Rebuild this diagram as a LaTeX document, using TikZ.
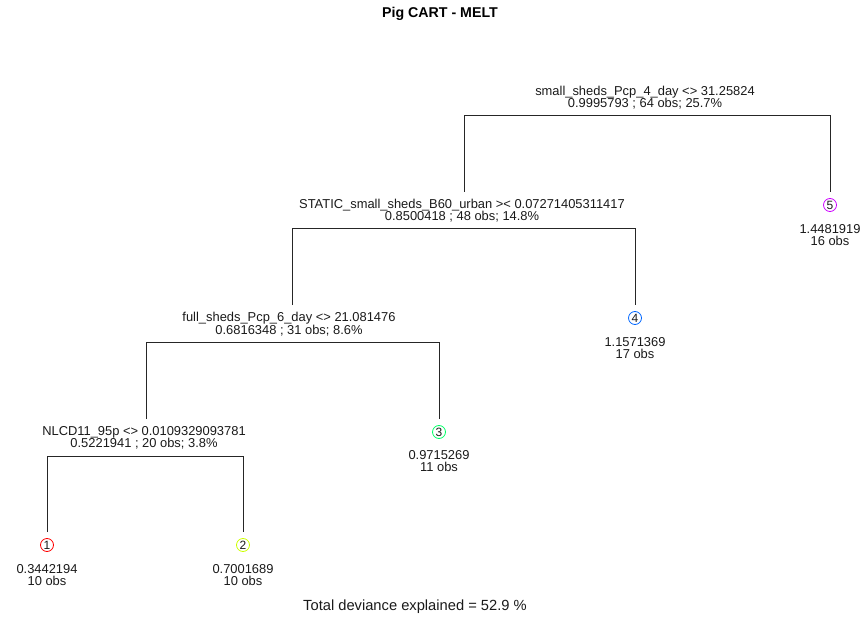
\documentclass[tikz,border=0pt]{standalone}
\usepackage{fontspec}
\setmainfont{Liberation Sans}
\definecolor{c1}{HTML}{FF0000}
\definecolor{c2}{HTML}{CCFF00}
\definecolor{c3}{HTML}{00FF66}
\definecolor{c4}{HTML}{0066FF}
\definecolor{c5}{HTML}{CC00FF}
\definecolor{txt}{HTML}{1A1A1A}
\begin{document}
\begin{tikzpicture}[x=1pt,y=-1pt,
  lbl/.style={font=\fontsize{12.9}{12.6}\selectfont, align=center, inner sep=0pt, text=txt},
  edge/.style={draw=black!85, line width=1pt},
  leafc/.style={circle, draw=#1, line width=0.8pt, inner sep=0pt, minimum size=13pt, text=txt, font=\fontsize{12}{12}\selectfont},
  ttl/.style={font=\fontsize{14.2}{14}\selectfont\bfseries, inner sep=0pt},
  foot/.style={font=\fontsize{14.7}{14}\selectfont, inner sep=0pt, text=txt}]
\useasboundingbox (0,0) rectangle (864,620);

\node[ttl] (title) at (440,14) {Pig CART - MELT};
\node[foot] (footer) at (415,607) {Total deviance explained = 52.9 \%};

% labels of splits
\node[lbl] (root) at (645,97.5) {small\_sheds\_Pcp\_4\_day <> 31.25824\\0.9995793 ; 64 obs; 25.7\%};
\node[lbl] (static) at (462,210.5) {STATIC\_small\_sheds\_B60\_urban >< 0.07271405311417\\0.8500418 ; 48 obs; 14.8\%};
\node[lbl] (full) at (289,324) {full\_sheds\_Pcp\_6\_day <> 21.081476\\0.6816348 ; 31 obs; 8.6\%};
\node[lbl] (nlcd) at (144,438) {NLCD11\_95p <> 0.0109329093781\\0.5221941 ; 20 obs; 3.8\%};

% leaves
\node[leafc=c5] (l5) at (830,205) {5};
\node[lbl] (t5) at (830,235) {1.4481919\\16 obs};
\node[leafc=c4] (l4) at (635,318) {4};
\node[lbl] (t4) at (635,348) {1.1571369\\17 obs};
\node[leafc=c3] (l3) at (439,432) {3};
\node[lbl] (t3) at (439,461) {0.9715269\\11 obs};
\node[leafc=c1] (l1) at (47,545) {1};
\node[lbl] (t1) at (47,575) {0.3442194\\10 obs};
\node[leafc=c2] (l2) at (243,545) {2};
\node[lbl] (t2) at (243,575) {0.7001689\\10 obs};

% split corners and branch ends
\coordinate (rL) at (464,116); \coordinate (rR) at (830,116);
\coordinate (sL) at (292,229); \coordinate (sR) at (635,229);
\coordinate (fL) at (146,342); \coordinate (fR) at (439,342);
\coordinate (nL) at (47,456);  \coordinate (nR) at (243,456);
\coordinate (eStatic) at (464,192); \coordinate (e5) at (830,192);
\coordinate (eFull) at (292,305);   \coordinate (e4) at (635,305);
\coordinate (eNlcd) at (146,419);   \coordinate (e3) at (439,419);
\coordinate (e1) at (47,532);       \coordinate (e2) at (243,532);

\draw[edge] (eStatic) -- (rL) -- (rR) -- (e5);
\draw[edge] (eFull) -- (sL) -- (sR) -- (e4);
\draw[edge] (eNlcd) -- (fL) -- (fR) -- (e3);
\draw[edge] (e1) -- (nL) -- (nR) -- (e2);
\end{tikzpicture}
\end{document}
